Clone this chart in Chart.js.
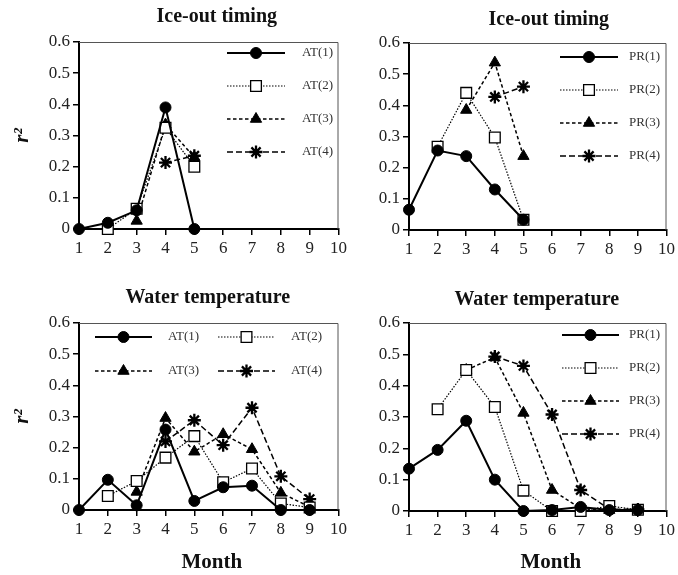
<!DOCTYPE html>
<html>
<head>
<meta charset="utf-8">
<script src="https://cdn.jsdelivr.net/npm/chart.js@4.4.0/dist/chart.umd.min.js"></script>
<style>
  html, body { margin: 0; padding: 0; background: #fff; }
  #fig { position: relative; width: 678px; height: 575px; overflow: hidden; }
  #fig canvas { position: absolute; }
</style>
</head>
<body>
<div id="fig">
  <canvas id="c1" width="350" height="262" style="left:0;top:0"></canvas>
  <canvas id="c2" width="338" height="262" style="left:340px;top:0"></canvas>
  <canvas id="c3" width="350" height="295" style="left:0;top:280px"></canvas>
  <canvas id="c4" width="338" height="295" style="left:340px;top:280px"></canvas>
</div>
<script>
  // months on the x axis, r^2 on the y axis
  const months = [1, 2, 3, 4, 5, 6, 7, 8, 9];
  const xTicks = [1, 2, 3, 4, 5, 6, 7, 8, 9, 10];
  const yTicks = [0, 0.1, 0.2, 0.3, 0.4, 0.5, 0.6];

  // Ice-out timing, air temperature lags
  const atIce1 = [0, 0.02, 0.06, 0.39, 0.0];
  const atIce2 = [null, 0.0, 0.065, 0.325, 0.2];
  const atIce3 = [null, null, 0.026, 0.335, 0.23];
  const atIce4 = [null, null, null, 0.213, 0.235];

  // Ice-out timing, precipitation lags
  const prIce1 = [0.065, 0.255, 0.237, 0.13, 0.033];
  const prIce2 = [null, 0.267, 0.44, 0.297, 0.033];
  const prIce3 = [null, null, 0.385, 0.537, 0.237];
  const prIce4 = [null, null, null, 0.427, 0.46];

  // Water temperature, air temperature lags
  const atWt1 = [0, 0.097, 0.015, 0.258, 0.029, 0.073, 0.078, 0.0, 0.0];
  const atWt2 = [null, 0.045, 0.093, 0.168, 0.237, 0.089, 0.133, 0.021, 0.008];
  const atWt3 = [null, null, 0.058, 0.295, 0.187, 0.243, 0.195, 0.055, 0.01];
  const atWt4 = [null, null, null, 0.22, 0.288, 0.208, 0.328, 0.108, 0.035];

  // Water temperature, precipitation lags
  const prWt1 = [0.135, 0.195, 0.288, 0.1, 0.0, 0.003, 0.013, 0.003, 0.003];
  const prWt2 = [null, 0.325, 0.45, 0.332, 0.065, 0.0, 0.0, 0.016, 0.004];
  const prWt3 = [null, null, 0.45, 0.49, 0.313, 0.067, 0.008, 0.003, 0.004];
  const prWt4 = [null, null, null, 0.493, 0.463, 0.308, 0.067, 0.006, 0.005];

  const SERIF = "'Liberation Serif', 'DejaVu Serif', serif";

  /** one look per lag: solid/circle, dotted/square, short dash/triangle, long dash/star */
  const LAG_STYLES = [
    { borderWidth: 2, borderDash: [], pointStyle: "circle", pointRadius: 5.5, pointBackgroundColor: "#000", pointBorderWidth: 1 },
    { borderWidth: 1.2, borderDash: [1.5, 1.5], pointStyle: "rect", pointRadius: 7.6, pointBackgroundColor: "#fff", pointBorderWidth: 1.3 },
    { borderWidth: 1.5, borderDash: [3.5, 2.5], pointStyle: "triangle", pointRadius: 6.5, pointBackgroundColor: "#000", pointBorderWidth: 1 },
    { borderWidth: 1.5, borderDash: [6, 3], pointStyle: "star", pointRadius: 6.5, pointBackgroundColor: "#000", pointBorderWidth: 2.3 },
  ];

  function toPoints(values) {
    const pts = [];
    months.forEach((m, i) => {
      if (values[i] != null) pts.push({ x: m, y: values[i] });
    });
    return pts;
  }

  function makeDatasets(prefix, series) {
    return series.map((vals, i) => ({
      label: prefix + "(" + (i + 1) + ")",
      data: toPoints(vals),
      borderColor: "#000",
      pointBorderColor: "#000",
      pointHoverRadius: LAG_STYLES[i].pointRadius,
      tension: 0,
      clip: false,
      ...LAG_STYLES[i],
    }));
  }

  /** thin top and right frame lines */
  const frame = {
    id: "frame",
    beforeDatasetsDraw(chart) {
      const { ctx, chartArea: a } = chart;
      ctx.save();
      ctx.strokeStyle = "#555";
      ctx.lineWidth = 1;
      ctx.beginPath();
      ctx.moveTo(a.left, a.top + 0.5);
      ctx.lineTo(a.right - 0.5, a.top + 0.5);
      ctx.lineTo(a.right - 0.5, a.bottom);
      ctx.stroke();
      ctx.restore();
    },
  };

  /** panel heading and optional bottom label, placed relative to the plot area */
  const panelText = {
    id: "panelText",
    afterDraw(chart, args, opts) {
      const { ctx, chartArea: a } = chart;
      const cx = (a.left + a.right) / 2;
      ctx.save();
      ctx.fillStyle = "#111";
      ctx.textAlign = "center";
      ctx.textBaseline = "middle";
      if (opts.title) {
        ctx.font = "bold 20px " + SERIF;
        ctx.fillText(opts.title, cx + opts.titleDx, a.top + opts.titleDy);
      }
      if (opts.xlabel) {
        ctx.font = "bold 21px " + SERIF;
        ctx.fillText(opts.xlabel, cx + opts.xlabelDx, a.bottom + opts.xlabelDy);
      }
      ctx.restore();
    },
  };

  /** legend with a line sample and the marker in its middle */
  const lineLegend = {
    id: "lineLegend",
    afterDatasetsDraw(chart, args, opts) {
      const { ctx, chartArea: a } = chart;
      chart.data.datasets.forEach((ds, i) => {
        const col = i % opts.cols;
        const row = Math.floor(i / opts.cols);
        const x0 = a.left + opts.x + col * opts.colGap;
        const y = a.top + opts.y + row * opts.rowGap;
        ctx.save();
        ctx.strokeStyle = ds.borderColor;
        ctx.lineWidth = ds.borderWidth;
        ctx.setLineDash(ds.borderDash || []);
        ctx.beginPath();
        ctx.moveTo(x0, y);
        ctx.lineTo(x0 + opts.len, y);
        ctx.stroke();
        ctx.setLineDash([]);
        ctx.fillStyle = ds.pointBackgroundColor;
        ctx.strokeStyle = ds.pointBorderColor;
        ctx.lineWidth = ds.pointBorderWidth;
        Chart.helpers.drawPoint(
          ctx,
          { pointStyle: ds.pointStyle, radius: ds.pointRadius, borderWidth: ds.pointBorderWidth, rotation: 0 },
          x0 + opts.len / 2,
          y,
        );
        ctx.fillStyle = "#333";
        ctx.font = "13px " + SERIF;
        ctx.textAlign = "left";
        ctx.textBaseline = "middle";
        ctx.fillText(ds.label, x0 + opts.textX, y);
        ctx.restore();
      });
    },
  };

  function buildChart(id, p) {
    return new Chart(document.getElementById(id), {
      type: "line",
      data: { datasets: makeDatasets(p.prefix, p.series) },
      plugins: [frame, panelText, lineLegend],
      options: {
        responsive: false,
        devicePixelRatio: 1,
        animation: false,
        events: [],
        layout: { padding: { top: p.top, right: p.right, bottom: 0, left: 0 } },
        plugins: {
          legend: { display: false },
          tooltip: { enabled: false },
          panelText: p.text,
          lineLegend: p.legend,
        },
        scales: {
          x: {
            type: "linear",
            min: xTicks[0],
            max: xTicks[xTicks.length - 1],
            afterBuildTicks: (s) => { s.ticks = xTicks.map((v) => ({ value: v })); },
            afterFit: (s) => { s.height = p.xHeight; },
            ticks: { color: "#222", font: { family: SERIF, size: 17 }, padding: 3, maxRotation: 0 },
            grid: { drawOnChartArea: false, drawTicks: true, tickLength: 6, color: "#000", lineWidth: 1.5 },
            border: { display: true, color: "#000", width: 2 },
          },
          y: {
            min: yTicks[0],
            max: yTicks[yTicks.length - 1],
            afterBuildTicks: (s) => { s.ticks = yTicks.map((v) => ({ value: v })); },
            afterFit: (s) => { s.width = p.yWidth; },
            ticks: {
              color: "#222",
              font: { family: SERIF, size: 17 },
              padding: 3,
              callback: (v) => (v === 0 ? "0" : Number(v).toFixed(1)),
            },
            grid: { drawOnChartArea: false, drawTicks: true, tickLength: 6, color: "#000", lineWidth: 1.5 },
            border: { display: true, color: "#000", width: 2 },
            title: {
              display: p.yTitle,
              text: "r\u00B2",
              color: "#111",
              font: { family: SERIF, size: 21, weight: "bold", style: "italic" },
              padding: { top: 10, bottom: 0 },
            },
          },
        },
      },
    });
  }

  buildChart("c1", {
    prefix: "AT", series: [atIce1, atIce2, atIce3, atIce4],
    top: 42, right: 11, xHeight: 33, yWidth: 79, yTitle: true,
    text: { title: "Ice-out timing", titleDx: 8, titleDy: -25 },
    legend: { cols: 1, x: 148, y: 11, colGap: 0, rowGap: 33, len: 58, textX: 75 },
  });
  buildChart("c2", {
    prefix: "PR", series: [prIce1, prIce2, prIce3, prIce4],
    top: 43, right: 8, xHeight: 32, yWidth: 69, yTitle: false,
    text: { title: "Ice-out timing", titleDx: 11, titleDy: -23 },
    legend: { cols: 1, x: 151, y: 14, colGap: 0, rowGap: 33, len: 58, textX: 69 },
  });
  buildChart("c3", {
    prefix: "AT", series: [atWt1, atWt2, atWt3, atWt4],
    top: 43, right: 11, xHeight: 65, yWidth: 79, yTitle: true,
    text: { title: "Water temperature", titleDx: -1, titleDy: -25, xlabel: "Month", xlabelDx: 3, xlabelDy: 53 },
    legend: { cols: 2, x: 16, y: 14, colGap: 123, rowGap: 34, len: 57, textX: 73 },
  });
  buildChart("c4", {
    prefix: "PR", series: [prWt1, prWt2, prWt3, prWt4],
    top: 43, right: 8, xHeight: 64, yWidth: 69, yTitle: false,
    text: { title: "Water temperature", titleDx: -1, titleDy: -23, xlabel: "Month", xlabelDx: 13, xlabelDy: 52 },
    legend: { cols: 1, x: 153, y: 12, colGap: 0, rowGap: 33, len: 57, textX: 67 },
  });
</script>
</body>
</html>
